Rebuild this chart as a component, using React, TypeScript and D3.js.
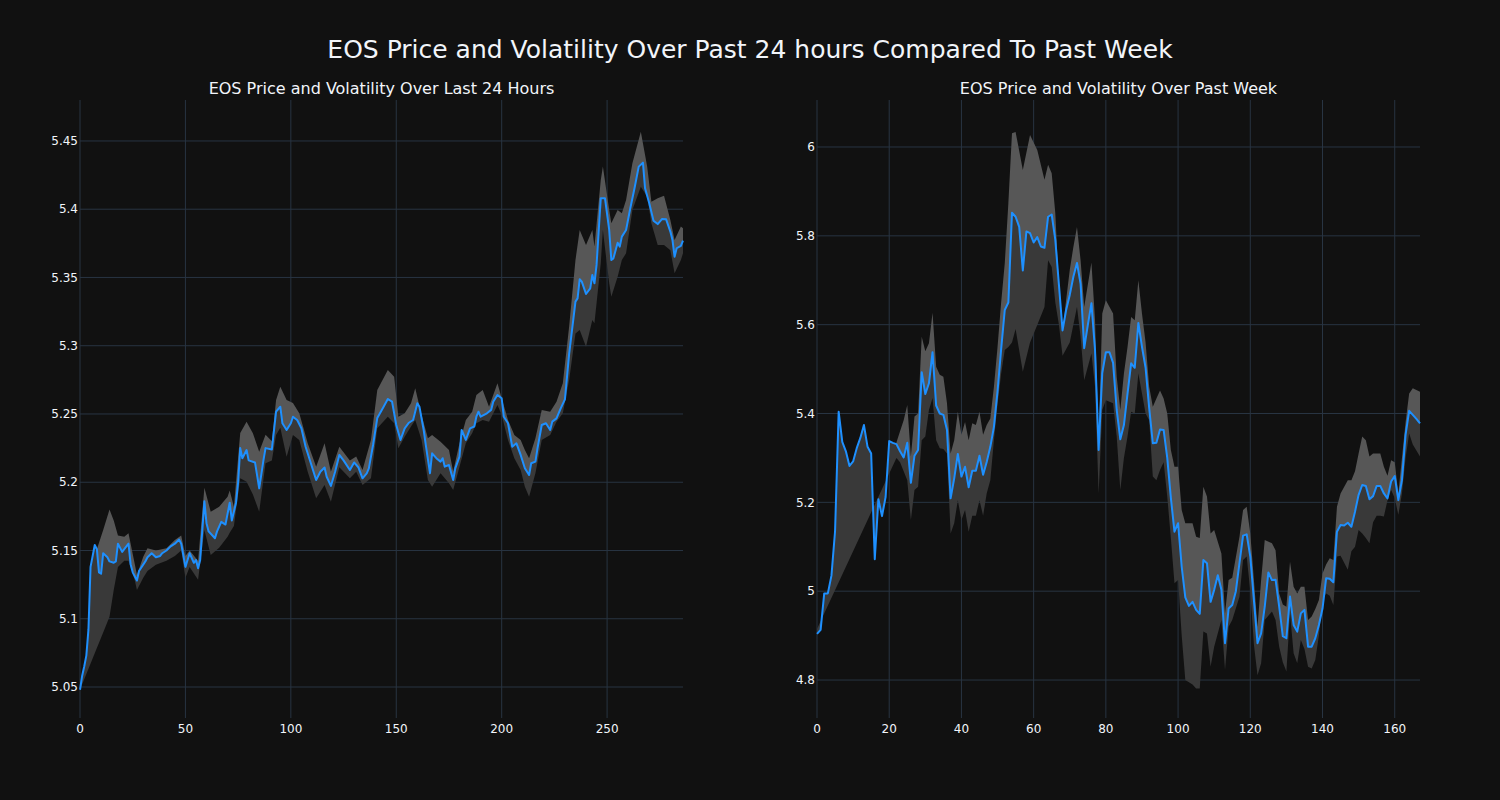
import React from "react";
import * as d3 from "d3";

const MAIN_TITLE = "EOS Price and Volatility Over Past 24 hours Compared To Past Week";
const DAY_TITLE = "EOS Price and Volatility Over Last 24 Hours";
const WEEK_TITLE = "EOS Price and Volatility Over Past Week";

// Last 24 hours: [index, price]
const dayPrice: [number, number][] = [
  [0, 5.048], [1, 5.058], [2, 5.065], [3, 5.073], [4, 5.092], [5, 5.138], [7, 5.154], [8, 5.151],
  [9, 5.134], [10, 5.133], [11, 5.148], [13, 5.145], [14, 5.142], [16, 5.141], [17, 5.142], [18, 5.155],
  [20, 5.149], [21, 5.151], [23, 5.155], [24, 5.14], [25, 5.134], [27, 5.128], [28, 5.135], [31, 5.142],
  [32, 5.145], [34, 5.148], [36, 5.145], [38, 5.146], [39, 5.148], [41, 5.15], [43, 5.153], [45, 5.155],
  [47, 5.158], [48, 5.155], [50, 5.138], [52, 5.148], [54, 5.141], [55, 5.143], [56, 5.137], [57, 5.143],
  [59, 5.186], [60, 5.17], [61, 5.164], [64, 5.159], [65, 5.164], [67, 5.171], [69, 5.169], [71, 5.185],
  [72, 5.172], [74, 5.185], [75, 5.2], [76, 5.225], [77, 5.2175], [79, 5.2236], [80, 5.216], [83, 5.2145],
  [85, 5.1955], [87, 5.216], [88, 5.225], [91, 5.224], [93, 5.2517], [95, 5.2553], [96, 5.2432], [98, 5.2383],
  [100, 5.2432], [101, 5.248], [103, 5.2456], [105, 5.2395], [107, 5.226], [109, 5.2163], [112, 5.2016], [114, 5.2077],
  [116, 5.2108], [117, 5.204], [119, 5.1973], [121, 5.2077], [123, 5.22], [125, 5.216], [128, 5.209], [130, 5.2145],
  [132, 5.211], [134, 5.2029], [136, 5.2065], [137, 5.2102], [139, 5.2273], [141, 5.247], [144, 5.2553], [146, 5.261],
  [148, 5.259], [150, 5.2419], [152, 5.231], [154, 5.2395], [156, 5.2436], [158, 5.2456], [160, 5.2578], [161, 5.2553],
  [163, 5.2383], [164, 5.2273], [166, 5.2066], [167, 5.2212], [169, 5.2176], [171, 5.2151], [172, 5.2176], [173, 5.2114],
  [175, 5.2126], [177, 5.2016], [178, 5.2102], [180, 5.2187], [181, 5.2383], [183, 5.231], [185, 5.2395], [187, 5.2408],
  [188, 5.248], [189, 5.2517], [190, 5.248], [193, 5.2505], [195, 5.253], [196, 5.259], [198, 5.2639], [200, 5.2615],
  [201, 5.248], [203, 5.2432], [205, 5.226], [207, 5.2285], [209, 5.22], [211, 5.2102], [213, 5.2053], [214, 5.2139],
  [216, 5.2151], [217, 5.2249], [219, 5.2419], [221, 5.2432], [223, 5.2383], [224, 5.2444], [226, 5.2468], [228, 5.2541],
  [230, 5.2607], [232, 5.294], [235, 5.3323], [236, 5.3347], [237, 5.3487], [238, 5.347], [240, 5.3379], [242, 5.342],
  [243, 5.3518], [244, 5.3457], [245, 5.3592], [247, 5.408], [249, 5.408], [251, 5.3848], [252, 5.3628], [253, 5.364],
  [255, 5.3755], [256, 5.3726], [257, 5.3799], [259, 5.3848], [261, 5.4007], [263, 5.4153], [265, 5.4312], [267, 5.4341],
  [268, 5.4153], [270, 5.4043], [272, 5.3916], [274, 5.3891], [276, 5.3928], [278, 5.3926], [280, 5.3836], [281, 5.3775],
  [282, 5.3652], [283, 5.3714], [285, 5.3732], [286, 5.377],
];

// Last 24 hours volatility band: [index, upper, lower]  (upper null = not yet available)
const dayBand: [number, number | null, number][] = [
  [0, null, 5.048], [8, 5.151, 5.0786], [11, 5.165, 5.09], [14, 5.18, 5.1015], [16, 5.172, 5.121], [18, 5.161, 5.138], [21, 5.16, 5.1425],
  [23, 5.1626, 5.1425], [26, 5.14, 5.128], [27, 5.132, 5.121], [30, 5.1455, 5.13], [32, 5.1516, 5.135],
  [36, 5.15, 5.1395], [41, 5.1516, 5.1425], [45, 5.1577, 5.146], [48, 5.161, 5.15], [50, 5.146, 5.13],
  [52, 5.15, 5.138], [56, 5.1425, 5.1285], [59, 5.196, 5.165], [62, 5.1784, 5.1467], [66, 5.182, 5.152],
  [70, 5.1894, 5.16], [71, 5.194, 5.163], [73, 5.182, 5.168], [76, 5.236, 5.203], [79, 5.2444, 5.2004],
  [82, 5.2359, 5.191], [85, 5.2224, 5.1784], [88, 5.2347, 5.2139], [91, 5.23, 5.216], [93, 5.2603, 5.2346],
  [95, 5.27, 5.24], [98, 5.2603, 5.2187], [101, 5.258, 5.2346], [104, 5.2505, 5.231], [108, 5.2285, 5.2077],
  [112, 5.2114, 5.1882], [116, 5.2285, 5.198], [119, 5.2077, 5.1858], [123, 5.226, 5.211], [128, 5.216, 5.2029],
  [131, 5.2188, 5.2077], [134, 5.209, 5.198], [138, 5.231, 5.203], [141, 5.2676, 5.2395], [146, 5.2822, 5.248],
  [149, 5.2773, 5.2432], [151, 5.248, 5.2249], [154, 5.2505, 5.2334], [157, 5.2578, 5.2408], [159, 5.2688, 5.2456],
  [162, 5.2493, 5.231], [165, 5.2322, 5.2016], [167, 5.2346, 5.1967], [171, 5.2297, 5.2065], [175, 5.2236, 5.1992],
  [177, 5.2078, 5.1943], [180, 5.2285, 5.2114], [183, 5.2456, 5.2285], [186, 5.2517, 5.2358], [188, 5.2639, 5.2432],
  [191, 5.2676, 5.2456], [194, 5.2553, 5.2444], [198, 5.2725, 5.2566], [200, 5.2615, 5.2492], [203, 5.2456, 5.231],
  [206, 5.2346, 5.2176], [209, 5.231, 5.209], [211, 5.2236, 5.1967], [213, 5.2175, 5.1894], [216, 5.2322, 5.2065],
  [219, 5.2529, 5.231], [223, 5.2517, 5.2346], [226, 5.259, 5.2444], [229, 5.2725, 5.2505], [232, 5.314, 5.2749],
  [235, 5.3628, 5.309], [237, 5.3848, 5.3115], [240, 5.3738, 5.2993], [243, 5.3848, 5.3189], [244, 5.3726, 5.3164],
  [247, 5.4214, 5.3604], [248, 5.4312, 5.3848], [251, 5.3995, 5.3457], [252, 5.3897, 5.3359], [255, 5.3995, 5.3506],
  [257, 5.397, 5.3628], [259, 5.4068, 5.3677], [262, 5.4337, 5.3995], [266, 5.4568, 5.4165], [269, 5.4312, 5.4092],
  [271, 5.4055, 5.3897], [274, 5.408, 5.3738], [277, 5.4098, 5.3738], [280, 5.3921, 5.37], [282, 5.3775, 5.3531],
  [285, 5.3873, 5.3628], [286, 5.386, 5.3677],
];

// Past week: hourly price, index = hour
const weekPrice: number[] = [
  4.904, 4.913, 4.995, 4.995, 5.035, 5.135, 5.404, 5.336, 5.315, 5.282,
  5.292, 5.322, 5.345, 5.374, 5.325, 5.31, 5.072, 5.207, 5.169, 5.212,
  5.338, 5.334, 5.331, 5.315, 5.301, 5.334, 5.244, 5.305, 5.318, 5.493,
  5.444, 5.468, 5.538, 5.418, 5.4, 5.397, 5.363, 5.209, 5.254, 5.309,
  5.258, 5.28, 5.234, 5.271, 5.271, 5.305, 5.262, 5.291, 5.325, 5.37,
  5.45, 5.545, 5.633, 5.65, 5.852, 5.843, 5.82, 5.722, 5.81, 5.806,
  5.785, 5.797, 5.776, 5.773, 5.843, 5.848, 5.791, 5.69, 5.587, 5.633,
  5.667, 5.708, 5.739, 5.692, 5.547, 5.599, 5.648, 5.543, 5.318, 5.491,
  5.538, 5.538, 5.514, 5.408, 5.342, 5.374, 5.445, 5.513, 5.503, 5.604,
  5.55, 5.503, 5.412, 5.333, 5.334, 5.364, 5.363, 5.3, 5.21, 5.134,
  5.153, 5.055, 4.986, 4.967, 4.976, 4.958, 4.949, 5.07, 5.063, 4.976,
  5.003, 5.036, 5.003, 4.883, 4.961, 4.969, 5.0, 5.063, 5.125, 5.128,
  5.078, 4.98, 4.883, 4.905, 4.965, 5.042, 5.025, 5.026, 4.965, 4.899,
  4.894, 4.988, 4.924, 4.909, 4.95, 4.958, 4.875, 4.875, 4.894, 4.924,
  4.961, 5.029, 5.028, 5.02, 5.134, 5.149, 5.148, 5.154, 5.145, 5.179,
  5.217, 5.239, 5.237, 5.207, 5.214, 5.237, 5.237, 5.22, 5.209, 5.247,
  5.259, 5.205, 5.25, 5.352, 5.406, 5.397, 5.388, 5.378,
];

// Past week volatility band: [hour, upper, lower]
const weekBand: [number, number | null, number][] = [
  [0, null, 4.915], [22, 5.335, 5.3], [23, 5.36, 5.29], [24, 5.385, 5.27], [25, 5.419, 5.25],
  [26, 5.303, 5.16], [27, 5.393, 5.228], [28, 5.4, 5.235], [29, 5.573, 5.34], [30, 5.54, 5.348],
  [31, 5.558, 5.408], [32, 5.627, 5.435], [33, 5.505, 5.34], [34, 5.487, 5.322], [35, 5.483, 5.32],
  [36, 5.423, 5.31], [37, 5.31, 5.13], [38, 5.34, 5.153], [39, 5.404, 5.205], [40, 5.352, 5.16],
  [41, 5.381, 5.183], [42, 5.34, 5.134], [43, 5.378, 5.17], [44, 5.374, 5.17], [45, 5.404, 5.205],
  [46, 5.352, 5.17], [47, 5.374, 5.22], [48, 5.389, 5.25], [49, 5.46, 5.34], [50, 5.55, 5.42],
  [51, 5.65, 5.49], [52, 5.738, 5.543], [53, 5.874, 5.55], [54, 6.031, 5.56], [55, 6.034, 5.59],
  [57, 5.948, 5.494], [59, 6.027, 5.56], [61, 5.993, 5.599], [63, 5.926, 5.64], [64, 5.96, 5.745],
  [65, 5.941, 5.73], [66, 5.851, 5.65], [67, 5.685, 5.6], [68, 5.588, 5.53], [70, 5.723, 5.56],
  [71, 5.775, 5.6], [72, 5.82, 5.64], [73, 5.745, 5.573], [74, 5.64, 5.475], [76, 5.74, 5.535],
  [77, 5.61, 5.46], [78, 5.34, 5.22], [79, 5.625, 5.408], [80, 5.655, 5.43], [82, 5.625, 5.423],
  [83, 5.483, 5.348], [84, 5.408, 5.228], [85, 5.49, 5.3], [86, 5.55, 5.348], [87, 5.617, 5.404],
  [88, 5.61, 5.4], [89, 5.7, 5.49], [90, 5.625, 5.445], [91, 5.56, 5.4], [92, 5.46, 5.385],
  [93, 5.415, 5.258], [94, 5.434, 5.25], [95, 5.452, 5.273], [96, 5.434, 5.29], [97, 5.4, 5.213],
  [98, 5.318, 5.12], [99, 5.28, 5.018], [100, 5.28, 5.025], [101, 5.183, 4.9], [102, 5.153, 4.8],
  [104, 5.153, 4.79], [105, 5.1226, 4.781], [106, 5.12, 4.781], [107, 5.235, 4.909], [108, 5.213, 4.905],
  [109, 5.13, 4.83], [110, 5.1377, 4.875], [112, 5.085, 4.935], [113, 4.95, 4.8225], [114, 5.025, 4.92],
  [115, 5.03, 4.935], [117, 5.1226, 4.9876], [118, 5.183, 5.07], [119, 5.19, 5.078], [120, 5.13, 5.0],
  [121, 5.025, 4.88], [122, 4.92, 4.811], [123, 5.025, 4.8375], [124, 5.115, 4.935], [126, 5.108, 4.954],
  [127, 5.092, 4.935], [128, 4.995, 4.875], [129, 4.97, 4.84], [130, 4.965, 4.819], [131, 5.066, 4.95],
  [132, 5.01, 4.86], [133, 4.995, 4.8375], [134, 5.01, 4.89], [135, 5.01, 4.87], [136, 4.935, 4.83],
  [137, 4.943, 4.826], [138, 4.96, 4.845], [139, 4.98, 4.9], [140, 5.04, 4.98], [141, 5.06, 4.995],
  [142, 5.074, 4.99], [143, 5.07, 4.969], [144, 5.19, 5.078], [145, 5.22, 5.08], [147, 5.25, 5.048],
  [148, 5.25, 5.09], [149, 5.27, 5.1], [150, 5.31, 5.138], [151, 5.348, 5.13], [152, 5.34, 5.12],
  [153, 5.303, 5.108], [154, 5.31, 5.155], [155, 5.31, 5.17], [156, 5.31, 5.17], [157, 5.28, 5.168],
  [158, 5.26, 5.205], [159, 5.295, 5.228], [160, 5.29, 5.21], [161, 5.22, 5.172], [162, 5.3, 5.22],
  [163, 5.38, 5.3], [164, 5.445, 5.355], [165, 5.457, 5.33], [167, 5.449, 5.303],
];

const dayXTicks = [0, 50, 100, 150, 200, 250];
const dayYTicks = [5.05, 5.1, 5.15, 5.2, 5.25, 5.3, 5.35, 5.4, 5.45];
const weekXTicks = [0, 20, 40, 60, 80, 100, 120, 140, 160];
const weekYTicks = [4.8, 5, 5.2, 5.4, 5.6, 5.8, 6];

const W = 1500;
const H = 800;
const Y_TOP = 100;
const Y_BOT = 718;
const BG = "#111111";
const GRID = "#283442";
const TEXT = "#f2f5fa";
const LINE = "#1e90ff";
const LIGHT = "#575757";
const DARK = "#393939";
const FONT = "'DejaVu Sans', Verdana, sans-serif";

type PanelProps = {
  x0: number;
  x1: number;
  xDomain: [number, number];
  yDomain: [number, number];
  points: [number, number][];
  band: [number, number | null, number][];
  xTicks: number[];
  yTicks: number[];
  title: string;
};

const fmt = d3.format("~g");

function Panel({ x0, x1, xDomain, yDomain, points, band, xTicks, yTicks, title }: PanelProps) {
  const xS = d3.scaleLinear().domain(xDomain).range([x0, x1]);
  const yS = d3.scaleLinear().domain(yDomain).range([Y_BOT, Y_TOP]);
  const line = d3.line<[number, number]>().x((d) => xS(d[0])).y((d) => yS(d[1]));

  const hiBand = band.filter((b) => b[1] != null).map((b) => [b[0], b[1] as number] as [number, number]);
  const firstHi = hiBand[0][0];
  const lastHi = hiBand[hiBand.length - 1][0];
  const priceSeg = points.filter((p) => p[0] >= firstHi && p[0] <= lastHi);
  const lightPath = line([...hiBand, ...priceSeg.slice().reverse()]) + "Z";

  const loBand = band.map((b) => [b[0], b[2]] as [number, number]);
  const darkPath = line([...points, ...loBand.slice().reverse()]) + "Z";

  const cx = (x0 + x1) / 2;

  return (
    <g>
      {yTicks.map((t) => (
        <line key={"gy" + t} x1={x0} x2={x1} y1={yS(t)} y2={yS(t)} stroke={GRID} strokeWidth={1} />
      ))}
      {xTicks.map((t) => (
        <line key={"gx" + t} x1={xS(t)} x2={xS(t)} y1={Y_TOP} y2={Y_BOT} stroke={GRID} strokeWidth={1} />
      ))}
      <path d={darkPath} fill={DARK} stroke="none" />
      <path d={lightPath} fill={LIGHT} stroke="none" />
      <path d={line(points) || ""} fill="none" stroke={LINE} strokeWidth={2} strokeLinejoin="round" />
      {yTicks.map((t) => (
        <text key={"ly" + t} x={x0 - 2} y={yS(t) + 4.2} textAnchor="end" fontSize={12} fill={TEXT} fontFamily={FONT}>
          {fmt(t)}
        </text>
      ))}
      {xTicks.map((t) => (
        <text key={"lx" + t} x={xS(t)} y={733} textAnchor="middle" fontSize={12} fill={TEXT} fontFamily={FONT}>
          {fmt(t)}
        </text>
      ))}
      <text x={cx} y={94.3} textAnchor="middle" fontSize={16} fill={TEXT} fontFamily={FONT}>
        {title}
      </text>
    </g>
  );
}

export default function App() {
  const weekPoints = weekPrice.map((v, i) => [i, v] as [number, number]);
  return (
    <svg
      width={W}
      height={H}
      viewBox={`0 0 ${W} ${H}`}
      style={{ position: "fixed", left: 0, top: 0, display: "block" }}
    >
      <rect x={0} y={0} width={W} height={H} fill={BG} />
      <text x={750} y={58.3} textAnchor="middle" fontSize={25} fill={TEXT} fontFamily={FONT}>
        {MAIN_TITLE}
      </text>
      <Panel
        x0={80}
        x1={683}
        xDomain={[0, 286]}
        yDomain={[5.0273, 5.48]}
        points={dayPrice}
        band={dayBand}
        xTicks={dayXTicks}
        yTicks={dayYTicks}
        title={DAY_TITLE}
      />
      <Panel
        x0={817}
        x1={1420}
        xDomain={[0, 167]}
        yDomain={[4.7145, 6.1058]}
        points={weekPoints}
        band={weekBand}
        xTicks={weekXTicks}
        yTicks={weekYTicks}
        title={WEEK_TITLE}
      />
    </svg>
  );
}
